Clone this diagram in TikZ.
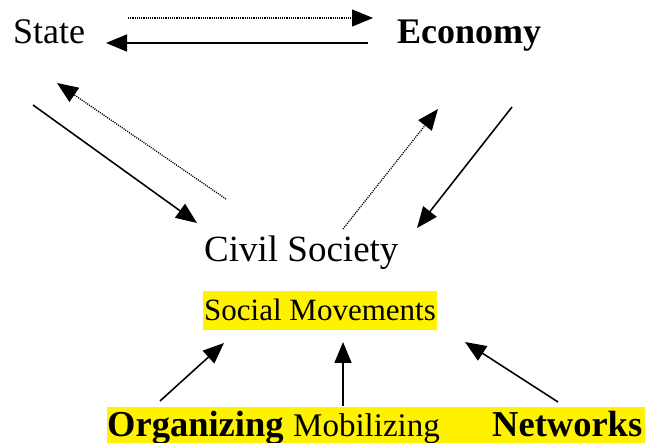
\documentclass[tikz,border=0pt]{standalone}
\usepackage{fontspec}
\setmainfont{Liberation Serif}
\usetikzlibrary{arrows.meta}
\tikzset{
  solidarr/.style={line width=.55mm, -{Triangle[length=21pt,width=17pt]}},
  dotarr/.style={line width=.45mm, dash pattern=on 1.1pt off 1.1pt, -{Triangle[length=21pt,width=17pt]}},
  hl/.style={fill=yellow, inner sep=1pt}
}
\newcommand{\fs}[1]{\fontsize{#1}{#1}\selectfont}

\begin{document}
\begin{tikzpicture}[x=1pt, y=-1pt]
        \useasboundingbox (0,0) rectangle (645,443);
        % labels
        \node[anchor=base west, inner sep=0] (state) at (13, 44) {\fs{36}State};
        \node[anchor=base west, inner sep=0] (econ) at (397, 44) {\fs{36}\bfseries Economy};
        \node[anchor=base west, inner sep=0] (civil) at (204, 262) {\fs{37}Civil Society};
        \node[hl, anchor=base west, minimum height=39pt] (move) at (203, 321) {\fs{31}Social Movements};
        \fill[yellow] (107, 407) rectangle (645, 443);
        \node[anchor=base west, inner sep=0] (org) at (107, 436) {\fs{36.5}\bfseries Organizing};
        \node[anchor=base west, inner sep=0] (mob) at (293, 436) {\fs{33}Mobilizing};
        \node[anchor=base west, inner sep=0] (net) at (492, 436) {\fs{36.5}\bfseries Networks};
        % free ends
        \coordinate (se1) at (128, 18);   \coordinate (se2) at (373, 18);
        \coordinate (es1) at (368, 43);   \coordinate (es2) at (106, 43);
        \coordinate (sc1) at (33, 105);   \coordinate (sc2) at (197, 223);
        \coordinate (cs1) at (226, 199);  \coordinate (cs2) at (57, 83);
        \coordinate (ce1) at (343, 229);  \coordinate (ce2) at (438, 109);
        \coordinate (ec1) at (512, 107);  \coordinate (ec2) at (417, 228);
        \coordinate (om1) at (160, 401);  \coordinate (om2) at (224, 343);
        \coordinate (mm1) at (343, 406);  \coordinate (mm2) at (343, 342);
        \coordinate (nm1) at (558, 402);  \coordinate (nm2) at (465, 342);
        % arrows
        \draw[dotarr] (se1) -- (se2);
        \draw[solidarr] (es1) -- (es2);
        \draw[solidarr] (sc1) -- (sc2);
        \draw[dotarr] (cs1) -- (cs2);
        \draw[dotarr] (ce1) -- (ce2);
        \draw[solidarr] (ec1) -- (ec2);
        \draw[solidarr] (om1) -- (om2);
        \draw[solidarr] (mm1) -- (mm2);
        \draw[solidarr] (nm1) -- (nm2);
\end{tikzpicture}
\end{document}
